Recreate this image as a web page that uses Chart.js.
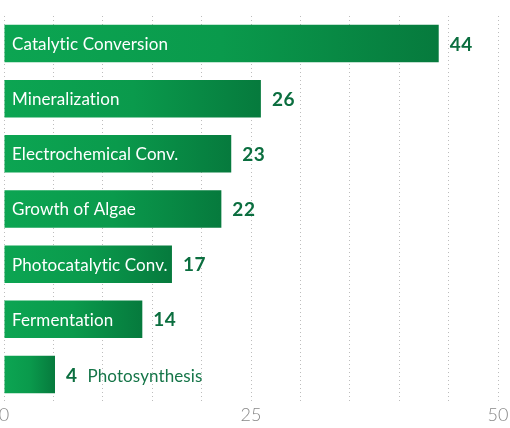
<!DOCTYPE html>
<html>
<head>
<meta charset="utf-8">
<script src="https://cdn.jsdelivr.net/npm/chart.js@4.4.1/dist/chart.umd.min.js"></script>
<style>
  html, body { margin: 0; padding: 0; background: #ffffff; }
  #wrap { width: 510px; height: 428px; position: relative; }
</style>
</head>
<body>
<div id="wrap"><canvas id="c"></canvas></div>
<script>
const categories = ['Catalytic Conversion', 'Mineralization', 'Electrochemical Conv.', 'Growth of Algae', 'Photocatalytic Conv.', 'Fermentation', 'Photosynthesis'];
const values = [44, 26, 23, 22, 17, 14, 4];
const axisMin = 0;
const axisMax = 50;
const gridStep = 5;
const labeledTicks = [0, 25, 50];

const FONT = 'Lato, "Open Sans", sans-serif';

function barGradient(context) {
  const chart = context.chart;
  const area = chart.chartArea;
  if (!area || !chart.scales.x) return '#0a9e4e';
  const meta = chart.getDatasetMeta(context.datasetIndex);
  const el = meta.data[context.dataIndex];
  const x0 = chart.scales.x.getPixelForValue(0);
  let x1 = chart.scales.x.getPixelForValue(context.raw);
  if (el && el.x) x1 = Math.max(x1, el.x);
  x1 = Math.max(x1, x0 + 51);
  const g = chart.ctx.createLinearGradient(x0, 0, x1, 0);
  g.addColorStop(0, '#0ca552');
  g.addColorStop(0.5, '#0a9a4c');
  g.addColorStop(1, '#067a3d');
  return g;
}

const labelPlugin = {
  id: 'barLabels',
  afterDatasetsDraw(chart) {
    const ctx = chart.ctx;
    const meta = chart.getDatasetMeta(0);
    ctx.save();
    ctx.textBaseline = 'middle';
    meta.data.forEach((bar, i) => {
      const left = chart.scales.x.getPixelForValue(0);
      const right = bar.x;
      const y = bar.y;
      ctx.letterSpacing = '0.1px';
      ctx.font = '17px ' + FONT;
      const cat = categories[i];
      const catW = ctx.measureText(cat).width;
      const inside = catW + 10 < (right - left);
      if (inside) {
        ctx.fillStyle = '#ffffff';
        ctx.textAlign = 'left';
        ctx.fillText(cat, left + 8, y + 1);
      }
      ctx.letterSpacing = '0.5px';
      ctx.font = 'bold 19px ' + FONT;
      ctx.fillStyle = '#0b6e3f';
      ctx.textAlign = 'left';
      const valTxt = String(values[i]);
      ctx.fillText(valTxt, right + 11, y + 1);
      if (!inside) {
        const vw = ctx.measureText(valTxt).width;
        ctx.letterSpacing = '0.1px';
        ctx.font = '17px ' + FONT;
        ctx.fillStyle = '#157548';
        ctx.fillText(cat, right + 11 + vw + 10, y + 2);
      }
    });
    ctx.restore();
  }
};

new Chart(document.getElementById('c'), {
  type: 'bar',
  data: {
    labels: categories,
    datasets: [{
      data: values,
      backgroundColor: barGradient,
      borderWidth: 0,
      minBarLength: 51,
      barPercentage: 0.68,
      categoryPercentage: 1.0
    }]
  },
  options: {
    indexAxis: 'y',
    responsive: true,
    maintainAspectRatio: false,
    animation: false,
    devicePixelRatio: 1,
    layout: { padding: { top: 16, left: 4, right: 12, bottom: 0 } },
    plugins: {
      legend: { display: false },
      tooltip: { enabled: false }
    },
    scales: {
      x: {
        min: axisMin,
        max: axisMax,
        border: { display: false, dash: [1, 3] },
        afterFit(scale) { scale.paddingLeft = 0; scale.paddingRight = 0; },
        grid: {
          color: '#bdbdbd',
          lineWidth: 1,
          drawTicks: false
        },
        ticks: {
          stepSize: gridStep,
          autoSkip: false,
          maxRotation: 0,
          padding: 4,
          color: '#888888',
          font: { family: FONT, size: 18, weight: '300', lineHeight: 1 },
          callback: (v) => labeledTicks.includes(v) ? String(v) : ''
        }
      },
      y: {
        display: false,
        grid: { display: false }
      }
    }
  },
  plugins: [labelPlugin]
});
</script>
</body>
</html>
